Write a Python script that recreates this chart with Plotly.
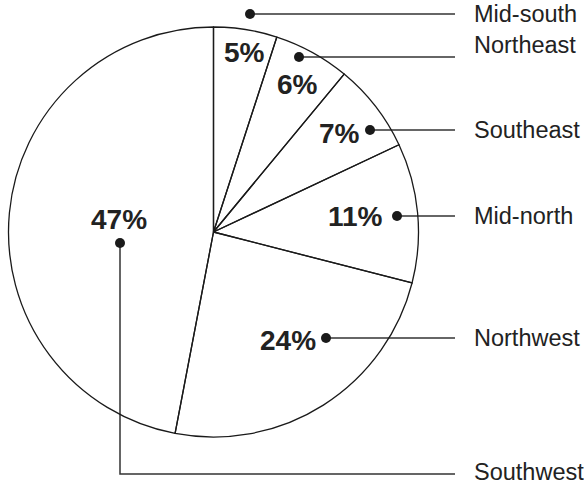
import plotly.graph_objects as go

# data
regions = ["Mid-south", "Northeast", "Southeast", "Mid-north", "Northwest", "Southwest"]
shares = [5, 6, 7, 11, 24, 47]

# layout helpers (pixel positions in a 584x486 canvas)
W, H = 584, 486
cx, cy, r = 213.5, 232, 205
dot_x = [250, 299, 370, 397, 326, 120]
dot_y = [14, 57, 130, 216, 338, 243]
line_end_x = 455
label_x = 472
label_y = [14, 45, 130, 216, 338, 472]
pct_x = [244, 297, 339, 355, 288, 119]
pct_y = [52, 84, 133, 216, 340, 219]
southwest_line_y = 474

fig = go.Figure()

fig.add_trace(go.Pie(
    labels=regions, values=shares, sort=False, direction="clockwise", rotation=0,
    marker=dict(colors=["rgba(255,255,255,0)"] * len(shares), line=dict(color="#1a1a1a", width=1.3)),
    textinfo="none", hoverinfo="skip", showlegend=False,
    domain=dict(x=[(cx - r) / W, (cx + r) / W], y=[1 - (cy + r) / H, 1 - (cy - r) / H]),
))

# leader lines
for i, name in enumerate(regions):
    if name == "Southwest":
        xs = [dot_x[i], dot_x[i], line_end_x]
        ys = [dot_y[i], southwest_line_y, southwest_line_y]
    else:
        xs = [dot_x[i], line_end_x]
        ys = [dot_y[i], dot_y[i]]
    fig.add_trace(go.Scatter(x=xs, y=ys, mode="lines", line=dict(color="#333333", width=1.5),
                             hoverinfo="skip", showlegend=False))

fig.add_trace(go.Scatter(x=dot_x, y=dot_y, mode="markers",
                         marker=dict(color="#1a1a1a", size=10), hoverinfo="skip", showlegend=False))

for i, name in enumerate(regions):
    fig.add_annotation(x=label_x, y=label_y[i], text=name, showarrow=False,
                       xanchor="left", yanchor="middle",
                       font=dict(family="Liberation Sans, Arial, sans-serif", size=23.5, color="#222222"))
    fig.add_annotation(x=pct_x[i], y=pct_y[i], text=f"<b>{shares[i]}%</b>", showarrow=False,
                       xanchor="center", yanchor="middle",
                       font=dict(family="Liberation Sans, Arial, sans-serif", size=28, color="#222222"))

fig.update_layout(
    width=W, height=H, margin=dict(l=0, r=0, t=0, b=0),
    paper_bgcolor="white", plot_bgcolor="rgba(0,0,0,0)",
    xaxis=dict(range=[0, W], visible=False, fixedrange=True),
    yaxis=dict(range=[H, 0], visible=False, fixedrange=True),
)

fig.write_html("out.html", config={"displayModeBar": False},
               post_script="document.body.style.margin='0';document.body.style.overflow='hidden';")
